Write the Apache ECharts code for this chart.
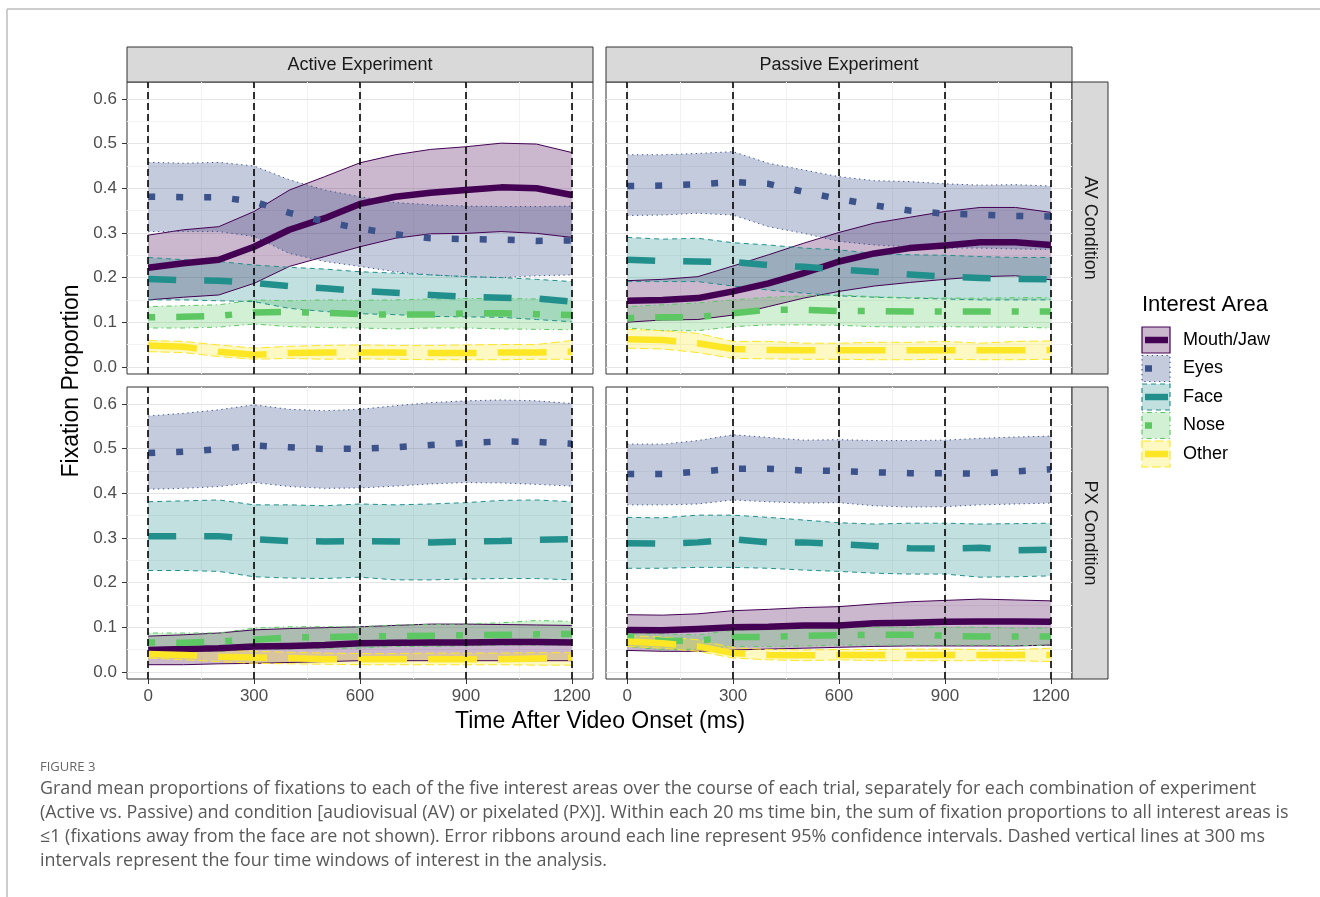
<!DOCTYPE html>
<html><head><meta charset="utf-8">
<script src="https://cdn.jsdelivr.net/npm/echarts@6/dist/echarts.min.js"></script>
<style>html,body{margin:0;padding:0;background:#fff}#c{width:1320px;height:897px}</style>
</head><body><div id="c"></div><script>
// ---------------- DATA ----------------
const timeMs = [0,100,200,300,400,500,600,700,800,900,1000,1100,1200];
const xTickValues = [0,300,600,900,1200];
const windowLines = [0,300,600,900,1200];
const yTickValues = [0,0.1,0.2,0.3,0.4,0.5,0.6];
const experiments = ['Active Experiment','Passive Experiment'];
const conditions = ['AV Condition','PX Condition'];
const areas = ['Mouth/Jaw','Eyes','Face','Nose','Other'];

// Active experiment, AV condition
const activeAV_mouth    = [0.222,0.232,0.240,0.269,0.307,0.333,0.365,0.381,0.390,0.396,0.402,0.400,0.385];
const activeAV_mouth_lo = [0.150,0.156,0.161,0.187,0.225,0.247,0.269,0.288,0.298,0.299,0.303,0.299,0.290];
const activeAV_mouth_hi = [0.295,0.307,0.314,0.348,0.396,0.426,0.457,0.475,0.487,0.493,0.501,0.499,0.480];
const activeAV_eyes     = [0.381,0.380,0.380,0.370,0.345,0.325,0.310,0.297,0.288,0.286,0.285,0.282,0.283];
const activeAV_eyes_lo  = [0.303,0.303,0.303,0.292,0.254,0.236,0.225,0.213,0.206,0.202,0.200,0.204,0.206];
const activeAV_eyes_hi  = [0.458,0.456,0.458,0.450,0.419,0.396,0.381,0.368,0.363,0.360,0.359,0.359,0.360];
const activeAV_face     = [0.197,0.194,0.193,0.188,0.181,0.176,0.170,0.166,0.161,0.157,0.155,0.153,0.146];
const activeAV_face_lo  = [0.150,0.150,0.148,0.146,0.131,0.124,0.119,0.117,0.113,0.112,0.111,0.106,0.101];
const activeAV_face_hi  = [0.245,0.240,0.236,0.228,0.223,0.219,0.213,0.210,0.206,0.202,0.200,0.196,0.191];
const activeAV_nose     = [0.111,0.112,0.114,0.122,0.123,0.121,0.118,0.117,0.117,0.120,0.120,0.118,0.116];
const activeAV_nose_lo  = [0.087,0.087,0.089,0.096,0.090,0.088,0.087,0.085,0.087,0.087,0.085,0.084,0.083];
const activeAV_nose_hi  = [0.135,0.137,0.139,0.150,0.148,0.150,0.149,0.150,0.152,0.153,0.153,0.152,0.150];
const activeAV_other    = [0.048,0.045,0.034,0.027,0.031,0.032,0.032,0.032,0.031,0.031,0.032,0.032,0.034];
const activeAV_other_lo = [0.034,0.032,0.023,0.017,0.019,0.017,0.018,0.017,0.016,0.016,0.016,0.017,0.017];
const activeAV_other_hi = [0.059,0.057,0.049,0.042,0.046,0.048,0.049,0.048,0.048,0.049,0.050,0.050,0.059];

// Passive experiment, AV condition
const passiveAV_mouth    = [0.148,0.150,0.154,0.169,0.187,0.210,0.236,0.254,0.266,0.272,0.279,0.279,0.273];
const passiveAV_mouth_lo = [0.100,0.105,0.106,0.116,0.135,0.154,0.169,0.181,0.189,0.196,0.202,0.204,0.195];
const passiveAV_mouth_hi = [0.193,0.196,0.202,0.226,0.251,0.277,0.301,0.322,0.335,0.348,0.357,0.357,0.346];
const passiveAV_eyes     = [0.405,0.406,0.409,0.414,0.410,0.392,0.376,0.362,0.350,0.343,0.341,0.338,0.337];
const passiveAV_eyes_lo  = [0.339,0.340,0.344,0.340,0.314,0.299,0.281,0.273,0.269,0.266,0.266,0.264,0.263];
const passiveAV_eyes_hi  = [0.475,0.475,0.478,0.482,0.456,0.441,0.426,0.417,0.415,0.410,0.407,0.408,0.405];
const passiveAV_face     = [0.240,0.237,0.236,0.235,0.228,0.224,0.218,0.213,0.207,0.202,0.199,0.197,0.196];
const passiveAV_face_lo  = [0.191,0.191,0.191,0.181,0.172,0.165,0.159,0.156,0.154,0.152,0.150,0.150,0.150];
const passiveAV_face_hi  = [0.290,0.286,0.288,0.278,0.273,0.266,0.262,0.254,0.251,0.250,0.247,0.245,0.245];
const passiveAV_nose     = [0.109,0.111,0.111,0.120,0.128,0.128,0.125,0.125,0.124,0.124,0.124,0.124,0.124];
const passiveAV_nose_lo  = [0.087,0.081,0.081,0.090,0.094,0.094,0.093,0.090,0.089,0.090,0.089,0.089,0.087];
const passiveAV_nose_hi  = [0.135,0.139,0.143,0.150,0.156,0.159,0.161,0.157,0.155,0.154,0.154,0.155,0.155];
const passiveAV_other    = [0.062,0.060,0.053,0.040,0.038,0.037,0.037,0.037,0.037,0.037,0.037,0.037,0.038];
const passiveAV_other_lo = [0.042,0.040,0.032,0.019,0.018,0.017,0.017,0.016,0.016,0.017,0.016,0.016,0.017];
const passiveAV_other_hi = [0.084,0.081,0.075,0.057,0.057,0.053,0.053,0.055,0.055,0.057,0.053,0.057,0.058];

// Active experiment, PX condition
const activePX_mouth    = [0.049,0.051,0.053,0.057,0.058,0.060,0.064,0.065,0.066,0.066,0.067,0.067,0.066];
const activePX_mouth_lo = [0.016,0.016,0.018,0.019,0.021,0.023,0.025,0.025,0.025,0.025,0.025,0.025,0.025];
const activePX_mouth_hi = [0.080,0.083,0.087,0.094,0.097,0.099,0.101,0.104,0.107,0.107,0.106,0.105,0.104];
const activePX_eyes     = [0.490,0.493,0.499,0.507,0.503,0.499,0.500,0.503,0.508,0.513,0.516,0.515,0.511];
const activePX_eyes_lo  = [0.409,0.411,0.415,0.424,0.415,0.411,0.412,0.416,0.421,0.424,0.423,0.420,0.416];
const activePX_eyes_hi  = [0.573,0.579,0.587,0.598,0.588,0.585,0.588,0.596,0.603,0.607,0.609,0.607,0.601];
const activePX_face     = [0.304,0.304,0.304,0.297,0.293,0.292,0.293,0.292,0.290,0.292,0.293,0.296,0.297];
const activePX_face_lo  = [0.227,0.227,0.225,0.213,0.210,0.209,0.212,0.206,0.206,0.208,0.209,0.209,0.206];
const activePX_face_hi  = [0.381,0.383,0.385,0.374,0.374,0.372,0.376,0.374,0.376,0.379,0.384,0.385,0.381];
const activePX_nose     = [0.066,0.065,0.068,0.072,0.077,0.078,0.079,0.080,0.081,0.082,0.083,0.084,0.085];
const activePX_nose_lo  = [0.046,0.046,0.046,0.051,0.051,0.053,0.053,0.057,0.057,0.058,0.060,0.060,0.060];
const activePX_nose_hi  = [0.087,0.087,0.087,0.098,0.101,0.101,0.101,0.105,0.106,0.107,0.110,0.115,0.113];
const activePX_other    = [0.040,0.038,0.034,0.032,0.031,0.028,0.028,0.028,0.028,0.028,0.028,0.030,0.032];
const activePX_other_lo = [0.031,0.027,0.023,0.019,0.018,0.017,0.016,0.016,0.016,0.016,0.016,0.015,0.015];
const activePX_other_hi = [0.053,0.051,0.049,0.046,0.044,0.042,0.041,0.041,0.042,0.042,0.042,0.043,0.043];

// Passive experiment, PX condition
const passivePX_mouth    = [0.094,0.093,0.096,0.100,0.101,0.104,0.104,0.109,0.110,0.112,0.113,0.113,0.112];
const passivePX_mouth_lo = [0.048,0.046,0.046,0.049,0.051,0.053,0.055,0.057,0.058,0.058,0.058,0.058,0.060];
const passivePX_mouth_hi = [0.128,0.127,0.130,0.137,0.140,0.144,0.146,0.152,0.157,0.160,0.163,0.161,0.159];
const passivePX_eyes     = [0.443,0.443,0.448,0.455,0.455,0.451,0.450,0.447,0.445,0.445,0.444,0.449,0.454];
const passivePX_eyes_lo  = [0.374,0.374,0.376,0.385,0.381,0.378,0.379,0.372,0.369,0.370,0.374,0.376,0.378];
const passivePX_eyes_hi  = [0.510,0.510,0.518,0.531,0.525,0.519,0.520,0.518,0.518,0.519,0.523,0.526,0.528];
const passivePX_face     = [0.288,0.287,0.290,0.297,0.290,0.290,0.286,0.282,0.277,0.276,0.278,0.272,0.274];
const passivePX_face_lo  = [0.232,0.232,0.234,0.234,0.232,0.228,0.225,0.221,0.219,0.219,0.212,0.213,0.215];
const passivePX_face_hi  = [0.346,0.345,0.351,0.351,0.346,0.340,0.334,0.331,0.333,0.333,0.331,0.332,0.333];
const passivePX_nose     = [0.079,0.069,0.070,0.078,0.078,0.081,0.082,0.083,0.083,0.081,0.079,0.079,0.079];
const passivePX_nose_lo  = [0.057,0.049,0.051,0.057,0.057,0.058,0.060,0.060,0.060,0.060,0.060,0.059,0.059];
const passivePX_nose_hi  = [0.087,0.085,0.083,0.093,0.096,0.098,0.100,0.100,0.100,0.100,0.100,0.098,0.098];
const passivePX_other    = [0.068,0.064,0.057,0.042,0.038,0.037,0.038,0.038,0.038,0.038,0.038,0.038,0.038];
const passivePX_other_lo = [0.057,0.053,0.046,0.031,0.027,0.025,0.027,0.025,0.025,0.025,0.025,0.025,0.023];
const passivePX_other_hi = [0.081,0.078,0.072,0.054,0.050,0.049,0.050,0.050,0.051,0.051,0.050,0.050,0.053];

const captionLines = [
  'Grand mean proportions of fixations to each of the five interest areas over the course of each trial, separately for each combination of experiment',
  '(Active vs. Passive) and condition [audiovisual (AV) or pixelated (PX)]. Within each 20 ms time bin, the sum of fixation proportions to all interest areas is',
  '\u22641 (fixations away from the face are not shown). Error ribbons around each line represent 95% confidence intervals. Dashed vertical lines at 300 ms',
  'intervals represent the four time windows of interest in the analysis.'
];

// ---------------- STYLE ----------------
const areaColors = ['#440154','#3B528B','#21908C','#5DC863','#FDE725'];
const areaFills  = ['rgba(68,1,84,0.28)','rgba(59,82,139,0.30)','rgba(33,144,140,0.28)','rgba(93,200,99,0.28)','rgba(253,231,37,0.28)'];
const meanDash = ['solid',[7,21],[28,28],[7,21,28,21],[49,21]];
const edgeDash = ['solid',[1.3,3.6],[5,4],[1.3,3.6,5,3.6],[9,3.6]];
const FONT = 'Liberation Sans, Arial, sans-serif';

const panels = [
  {exp:0, cond:0, d:[[activeAV_mouth,activeAV_mouth_lo,activeAV_mouth_hi],[activeAV_eyes,activeAV_eyes_lo,activeAV_eyes_hi],[activeAV_face,activeAV_face_lo,activeAV_face_hi],[activeAV_nose,activeAV_nose_lo,activeAV_nose_hi],[activeAV_other,activeAV_other_lo,activeAV_other_hi]]},
  {exp:1, cond:0, d:[[passiveAV_mouth,passiveAV_mouth_lo,passiveAV_mouth_hi],[passiveAV_eyes,passiveAV_eyes_lo,passiveAV_eyes_hi],[passiveAV_face,passiveAV_face_lo,passiveAV_face_hi],[passiveAV_nose,passiveAV_nose_lo,passiveAV_nose_hi],[passiveAV_other,passiveAV_other_lo,passiveAV_other_hi]]},
  {exp:0, cond:1, d:[[activePX_mouth,activePX_mouth_lo,activePX_mouth_hi],[activePX_eyes,activePX_eyes_lo,activePX_eyes_hi],[activePX_face,activePX_face_lo,activePX_face_hi],[activePX_nose,activePX_nose_lo,activePX_nose_hi],[activePX_other,activePX_other_lo,activePX_other_hi]]},
  {exp:1, cond:1, d:[[passivePX_mouth,passivePX_mouth_lo,passivePX_mouth_hi],[passivePX_eyes,passivePX_eyes_lo,passivePX_eyes_hi],[passivePX_face,passivePX_face_lo,passivePX_face_hi],[passivePX_nose,passivePX_nose_lo,passivePX_nose_hi],[passivePX_other,passivePX_other_lo,passivePX_other_hi]]}
];

// ---------------- LAYOUT ----------------
const gridLeft = [127, 606], gridTop = [82, 387], gridW = 466, gridH = 292;
const grids = [], xAxes = [], yAxes = [], series = [];

panels.forEach((p, gi) => {
  const isBottom = p.cond === 1, isLeft = p.exp === 0;
  grids.push({left: gridLeft[p.exp], top: gridTop[p.cond], width: gridW, height: gridH,
    show: true, borderColor: '#333', borderWidth: 1, backgroundColor: '#fff', containLabel: false});
  xAxes.push({type: 'value', gridIndex: gi, min: -60, max: 1260,
    axisLine: {show: false, onZero: false},
    axisTick: {show: isBottom, inside: false, length: 5, lineStyle: {color: '#333', width: 1}, customValues: xTickValues},
    axisLabel: {show: isBottom, customValues: xTickValues, formatter: v => String(v), fontSize: 17, fontFamily: FONT, color: '#4d4d4d', margin: 9},
    splitLine: {show: false}, minorSplitLine: {show: false}});
  yAxes.push({type: 'value', gridIndex: gi, min: -0.016, max: 0.638,
    axisLine: {show: false, onZero: false},
    axisTick: {show: isLeft, inside: false, length: 5, lineStyle: {color: '#333', width: 1}, customValues: yTickValues},
    axisLabel: {show: isLeft, customValues: yTickValues, formatter: v => v.toFixed(1), fontSize: 17, fontFamily: FONT, color: '#4d4d4d', margin: 10},
    splitLine: {show: false}});

  // background grid (major + minor)
  const gl = [];
  [150,450,750,1050].forEach(v => gl.push({xAxis: v, lineStyle: {color: '#f2f2f2', width: 1, type: 'solid'}}));
  [0.05,0.15,0.25,0.35,0.45,0.55].forEach(v => gl.push({yAxis: v, lineStyle: {color: '#f2f2f2', width: 1, type: 'solid'}}));
  xTickValues.forEach(v => gl.push({xAxis: v, lineStyle: {color: '#e5e5e5', width: 1.2, type: 'solid'}}));
  yTickValues.forEach(v => gl.push({yAxis: v, lineStyle: {color: '#e5e5e5', width: 1.2, type: 'solid'}}));
  series.push({type: 'line', xAxisIndex: gi, yAxisIndex: gi, data: [], z: 1, silent: true,
    markLine: {z: 1, silent: true, symbol: ['none','none'], label: {show: false}, animation: false, data: gl}});

  // ribbons
  p.d.forEach((arr, ai) => {
    const lo = arr[1], hi = arr[2];
    series.push({type: 'custom', xAxisIndex: gi, yAxisIndex: gi, z: 2, silent: true, clip: true,
      data: timeMs.map((t, i) => [t, lo[i], hi[i]]), encode: {x: 0, y: [1, 2]},
      renderItem: (params, api) => {
        if (params.dataIndex !== 0) return null;
        const pts = [];
        for (let i = 0; i < timeMs.length; i++) pts.push(api.coord([timeMs[i], hi[i]]));
        for (let i = timeMs.length - 1; i >= 0; i--) pts.push(api.coord([timeMs[i], lo[i]]));
        return {type: 'polygon', shape: {points: pts}, style: {fill: areaFills[ai], stroke: null}};
      }});
    [lo, hi].forEach(b => series.push({type: 'line', xAxisIndex: gi, yAxisIndex: gi, z: 2, silent: true,
      symbol: 'none', data: timeMs.map((t, i) => [t, b[i]]),
      lineStyle: {color: areaColors[ai], width: 1, type: edgeDash[ai]}}));
  });
  // mean lines
  p.d.forEach((arr, ai) => {
    series.push({type: 'line', xAxisIndex: gi, yAxisIndex: gi, z: 3, silent: true, symbol: 'none',
      data: timeMs.map((t, i) => [t, arr[0][i]]),
      lineStyle: {color: areaColors[ai], width: 6.5, type: meanDash[ai], cap: 'butt', join: 'round'}});
  });
  // time window lines
  series.push({type: 'line', xAxisIndex: gi, yAxisIndex: gi, data: [], z: 6, silent: true,
    markLine: {z: 6, silent: true, symbol: ['none','none'], label: {show: false}, animation: false,
      lineStyle: {color: '#000', width: 1.6, type: [7,4]},
      data: windowLines.map(v => ({xAxis: v}))}});
});

// ---------------- GRAPHIC (strips, titles, legend, caption) ----------------
const g = [];
g.push({type: 'line', shape: {x1: 7, y1: 9, x2: 1320, y2: 9}, style: {stroke: '#bdbdbd', lineWidth: 1.5}});
g.push({type: 'line', shape: {x1: 7, y1: 9, x2: 7, y2: 897}, style: {stroke: '#bdbdbd', lineWidth: 1.5}});
experiments.forEach((name, i) => {
  g.push({type: 'rect', shape: {x: gridLeft[i], y: 47, width: gridW, height: 35}, style: {fill: '#d9d9d9', stroke: '#333', lineWidth: 1}});
  g.push({type: 'text', x: gridLeft[i] + gridW / 2, y: 65, style: {text: name, font: '18px ' + FONT, fill: '#1a1a1a', textAlign: 'center', textVerticalAlign: 'middle', align: 'center', verticalAlign: 'middle'}});
});
conditions.forEach((name, i) => {
  g.push({type: 'rect', shape: {x: 1072, y: gridTop[i], width: 36, height: gridH}, style: {fill: '#d9d9d9', stroke: '#333', lineWidth: 1}});
  g.push({type: 'text', x: 1090, y: gridTop[i] + gridH / 2, rotation: -Math.PI / 2, style: {text: name, font: '18px ' + FONT, fill: '#1a1a1a', textAlign: 'center', textVerticalAlign: 'middle', align: 'center', verticalAlign: 'middle'}});
});
g.push({type: 'text', x: 72, y: 381, rotation: Math.PI / 2, style: {text: 'Fixation Proportion', font: '23px ' + FONT, fill: '#000', textAlign: 'center', textVerticalAlign: 'middle', align: 'center', verticalAlign: 'middle'}});
g.push({type: 'text', x: 600, y: 722, style: {text: 'Time After Video Onset (ms)', font: '23px ' + FONT, fill: '#000', textAlign: 'center', textVerticalAlign: 'middle', align: 'center', verticalAlign: 'middle'}});
// legend
g.push({type: 'text', x: 1142, y: 305, style: {text: 'Interest Area', font: '22px ' + FONT, fill: '#000', textAlign: 'left', textVerticalAlign: 'middle', align: 'left', verticalAlign: 'middle'}});
areas.forEach((name, i) => {
  const cy = 340 + i * 28.5;
  g.push({type: 'rect', shape: {x: 1142, y: cy - 13, width: 28, height: 26}, style: {fill: areaFills[i], stroke: areaColors[i], lineWidth: 1.2, lineDash: edgeDash[i] === 'solid' ? null : edgeDash[i]}});
  g.push({type: 'line', shape: {x1: 1145, y1: cy, x2: 1168, y2: cy}, style: {stroke: areaColors[i], lineWidth: 6.5, lineCap: 'butt', lineDash: meanDash[i] === 'solid' ? null : meanDash[i]}});
  g.push({type: 'text', x: 1183, y: cy, style: {text: name, font: '18px ' + FONT, fill: '#000', textAlign: 'left', textVerticalAlign: 'middle', align: 'left', verticalAlign: 'middle'}});
});
// caption
g.push({type: 'text', x: 40, y: 767, style: {text: 'FIGURE 3', font: '13px Open Sans, sans-serif', fill: '#666', textAlign: 'left', textVerticalAlign: 'middle', align: 'left', verticalAlign: 'middle'}});
captionLines.forEach((line, i) => {
  g.push({type: 'text', x: 40, y: 789 + i * 24, style: {text: line, font: '17.9px Open Sans, sans-serif', fill: '#585858', textAlign: 'left', textVerticalAlign: 'middle', align: 'left', verticalAlign: 'middle'}});
});

const chart = echarts.init(document.getElementById('c'), null, {renderer: 'canvas'});
chart.setOption({
  backgroundColor: '#fff',
  animation: false,
  grid: grids, xAxis: xAxes, yAxis: yAxes, series: series,
  graphic: {elements: g}
});
</script></body></html>
